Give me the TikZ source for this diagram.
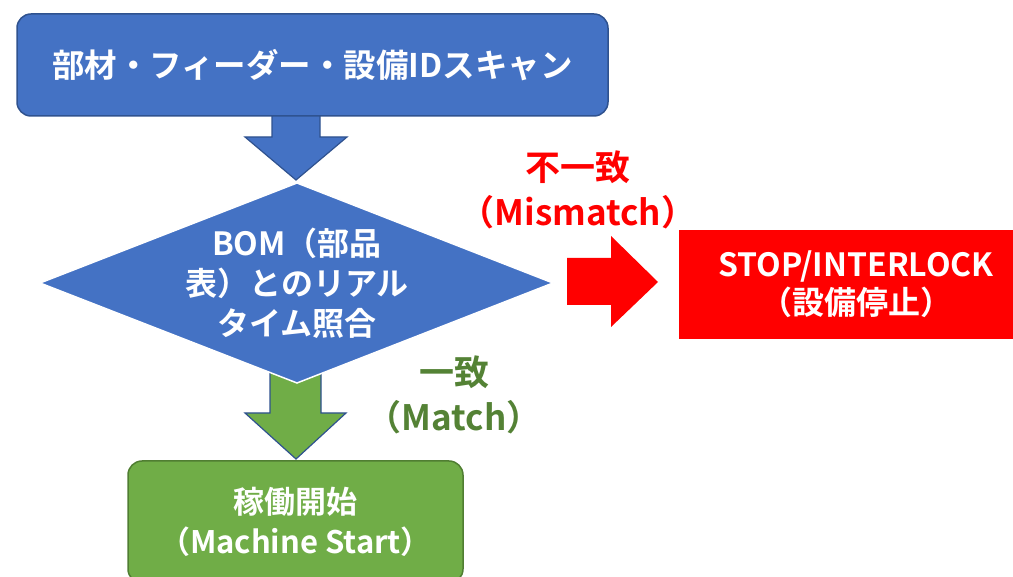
\documentclass[tikz,border=0pt]{standalone}
\usepackage{fontspec}
\setmainfont{Noto Sans CJK JP}[BoldFont={Noto Sans CJK JP Bold}]
\definecolor{pblue}{HTML}{4472C4}
\definecolor{bborder}{HTML}{2F528F}
\definecolor{pgreen}{HTML}{70AD47}
\definecolor{gborder}{HTML}{507E32}
\definecolor{lgreen}{HTML}{548235}
\definecolor{pred}{HTML}{FF0000}
\begin{document}
\begin{tikzpicture}[x=1pt,y=-1pt,
  boxtext/.style={text=white,font=\bfseries\fontsize{31}{40}\selectfont,align=center,inner sep=0pt},
  labeltext/.style={font=\bfseries\fontsize{35}{45}\selectfont,align=center,inner sep=0pt},
  bluebox/.style={boxtext,draw=bborder,fill=pblue,line width=1.5pt,rounded corners=14pt},
  greenbox/.style={boxtext,draw=gborder,fill=pgreen,line width=1.5pt,rounded corners=14pt},
  redbox/.style={boxtext,fill=pred},
  blockarrow/.style={line width=1.2pt,line join=miter}
]
\useasboundingbox (0,0) rectangle (1013,577);
\clip (0,0) rectangle (1013,577);

% top box
\node[bluebox,font=\bfseries\fontsize{32.5}{40}\selectfont,minimum width=591pt,minimum height=102pt] (scan) at (312.5,65) {部材・フィーダー・設備IDスキャン};

% blue block arrow
\draw[blockarrow,draw=bborder,fill=pblue] (272,116) -- (320,116) -- (320,137) -- (347,137) -- (296,180) -- (245,137) -- (272,137) -- cycle;

% green block arrow (behind the diamond)
\draw[blockarrow,draw=bborder,fill=pgreen] (270,370) -- (321,370) -- (321,413) -- (346,413) -- (296,459) -- (245,413) -- (270,413) -- cycle;

% diamond
\coordinate (dtop) at (297,183);
\coordinate (dright) at (553,283);
\coordinate (dbottom) at (297,383);
\coordinate (dleft) at (40,283);
\draw[draw=white,line width=1.5pt,fill=pblue,line join=miter] (dtop) -- (dright) -- (dbottom) -- (dleft) -- cycle;
\node[boxtext,font=\bfseries\fontsize{32}{40}\selectfont] (bom) at (297,283) {BOM（部品\\表）とのリアル\\タイム照合};

% red block arrow
\fill[pred] (567,258) -- (611,258) -- (611,236) -- (658,282) -- (611,327) -- (611,305) -- (567,305) -- cycle;

% red box
\node[redbox,font=\bfseries\fontsize{32}{38}\selectfont,minimum width=354pt,minimum height=109pt] (stop) at (856,284.5) {STOP/INTERLOCK\\（設備停止）};

% green box
\node[greenbox,minimum width=335pt,minimum height=122pt] (start) at (295.5,522) {稼働開始\\（Machine Start）};

% labels
\node[labeltext,text=pred] (mismatch) at (578,190) {不一致\\（Mismatch）};
\node[labeltext,text=lgreen] (match) at (454,395) {一致\\（Match）};
\end{tikzpicture}
\end{document}
